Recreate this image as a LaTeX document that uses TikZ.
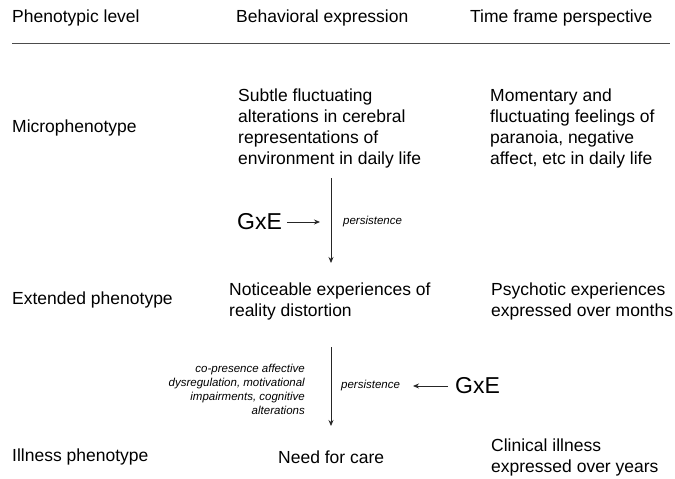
\documentclass[tikz,border=0pt]{standalone}
\usepackage{fontspec}
\setmainfont{Liberation Sans}
\usetikzlibrary{arrows.meta}
\tikzset{
  txt/.style={anchor=west, inner sep=0pt, align=left, font=\fontsize{17.5}{21}\selectfont},
  hdr/.style={anchor=west, inner sep=0pt, font=\fontsize{17.5}{21}\selectfont},
  small/.style={inner sep=0pt, font=\fontsize{11.5}{14}\selectfont\itshape},
  gxe/.style={anchor=west, inner sep=0pt, font=\fontsize{23}{26}\selectfont},
  arr/.style={draw=black!85, line width=0.8pt, -{Stealth[length=6pt,width=5pt]}},
  rule/.style={draw=black!70, line width=1pt}
}
\begin{document}
\begin{tikzpicture}[x=1pt,y=-1pt]
\useasboundingbox (0,0) rectangle (675,479);
% header
\node[hdr] (h1) at (12,18) {Phenotypic level};
\node[hdr] (h2) at (236,18) {Behavioral expression};
\node[hdr] (h3) at (470,18) {Time frame perspective};
\coordinate (r1) at (12,43);
\coordinate (r2) at (670,43);
\draw[rule] (r1) -- (r2);
% row 1
\node[txt] (l1) at (12,128) {Microphenotype};
\node[txt] (m1) at (238,128) {Subtle fluctuating\\alterations in cerebral\\representations of\\environment in daily life};
\node[txt] (t1) at (490,128) {Momentary and\\fluctuating feelings of\\paranoia, negative\\affect, etc in daily life};
% arrow 1
\coordinate (v1a) at (331,178);
\coordinate (v1b) at (331,263);
\draw[arr] (v1a) -- (v1b);
\node[gxe] (g1) at (237,222) {GxE};
\coordinate (g1e) at (320,222);
\path (g1.east) ++(5,0) coordinate (g1s);
\draw[arr] (g1s) -- (g1e);
\node[small, anchor=west] (p1) at (343,222) {persistence};
% row 2
\node[txt] (l2) at (12,300) {Extended phenotype};
\node[txt] (m2) at (229,301) {Noticeable experiences of\\reality distortion};
\node[txt] (t2) at (491,301) {Psychotic experiences\\expressed over months};
% arrow 2
\coordinate (v2a) at (331,347);
\coordinate (v2b) at (331,426);
\draw[arr] (v2a) -- (v2b);
\node[small, anchor=east, align=right] (c2) at (305,389) {co-presence affective\\dysregulation, motivational\\impairments, cognitive\\alterations};
\node[small, anchor=west] (p2) at (341,386) {persistence};
\node[gxe] (g2) at (455,386) {GxE};
\coordinate (g2e) at (413,386);
\path (g2.west) ++(-7,0) coordinate (g2s);
\draw[arr] (g2s) -- (g2e);
% row 3
\node[txt] (l3) at (12,457) {Illness phenotype};
\node[txt] (m3) at (278,457) {Need for care};
\node[txt] (t3) at (491,457) {Clinical illness\\expressed over years};
\end{tikzpicture}
\end{document}
